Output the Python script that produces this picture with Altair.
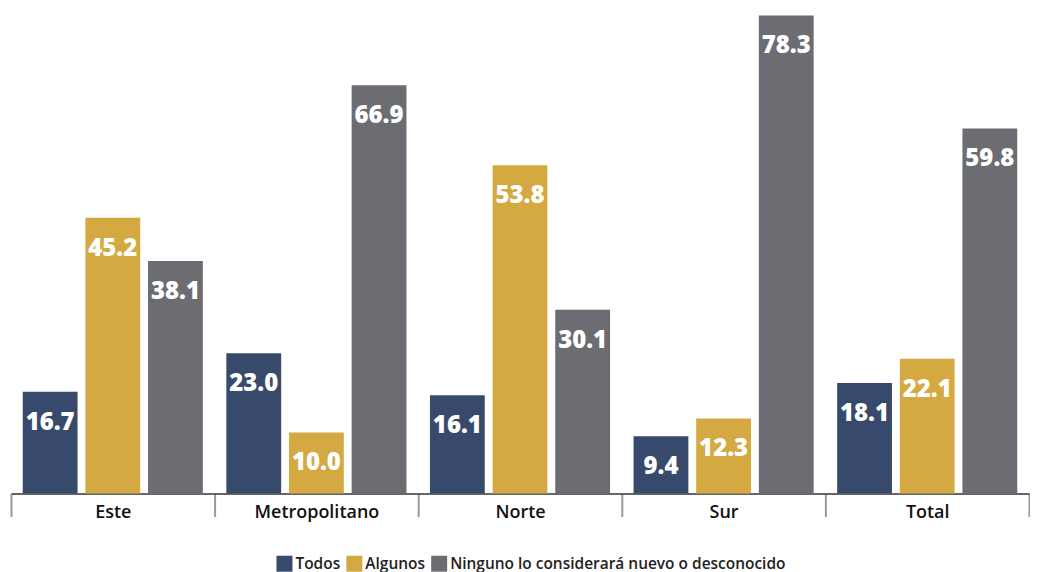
import altair as alt
import pandas as pd

regions = ["Este", "Metropolitano", "Norte", "Sur", "Total"]
series = ["Todos", "Algunos", "Ninguno lo considerará nuevo o desconocido"]
todos = [16.7, 23.0, 16.1, 9.4, 18.1]
algunos = [45.2, 10.0, 53.8, 12.3, 22.1]
ninguno = [38.1, 66.9, 30.1, 78.3, 59.8]
colors = ["#374a6b", "#d4a942", "#6c6d72"]

rows = []
for i, r in enumerate(regions):
    for s, vals in zip(series, [todos, algunos, ninguno]):
        rows.append({"region": r, "serie": s, "valor": vals[i], "label": f"{vals[i]:.1f}"})
df = pd.DataFrame(rows)

FONT = "Open Sans"

base = alt.Chart(df).encode(
    x=alt.X(
        "region:N",
        sort=regions,
        title=None,
        scale=alt.Scale(paddingInner=0, paddingOuter=0),
        axis=alt.Axis(
            labelAngle=0,
            labelFont=FONT,
            labelFontSize=18,
            labelFontWeight=600,
            labelColor="#111111",
            labelPadding=-13,
            tickBand="extent",
            tickSize=23,
            tickColor="#9a9a9a",
            tickWidth=2,
            domainColor="#333333",
            domainWidth=1.5,
        ),
    ),
    xOffset=alt.XOffset(
        "serie:N",
        sort=series,
        scale=alt.Scale(paddingInner=0.125, paddingOuter=0.1875),
    ),
    y=alt.Y("valor:Q", scale=alt.Scale(domain=[0, 79.45], nice=False), axis=None),
)

bars = base.mark_bar().encode(
    color=alt.Color(
        "serie:N",
        sort=series,
        scale=alt.Scale(domain=series, range=colors),
        legend=alt.Legend(
            title=None,
            orient="none",
            legendX=266,
            legendY=548,
            direction="horizontal",
            symbolType="square",
            symbolSize=256,
            symbolStrokeWidth=0,
            labelFont=FONT,
            labelFontSize=15.5,
            labelFontWeight=600,
            labelColor="#222222",
            labelOffset=3,
            columnPadding=6,
            labelLimit=600,
        ),
    )
)

labels = base.mark_text(
    font=FONT,
    fontSize=24,
    fontWeight=800,
    color="white",
    baseline="middle",
    dy=31,
).encode(text="label:N")

chart = (
    alt.layer(bars, labels)
    .properties(width=1020, height=486, padding={"left": 2, "top": 0, "right": 0, "bottom": 0})
    .configure_view(stroke=None)
)

chart.save("out.html", embed_options={"renderer": "svg", "actions": False})
